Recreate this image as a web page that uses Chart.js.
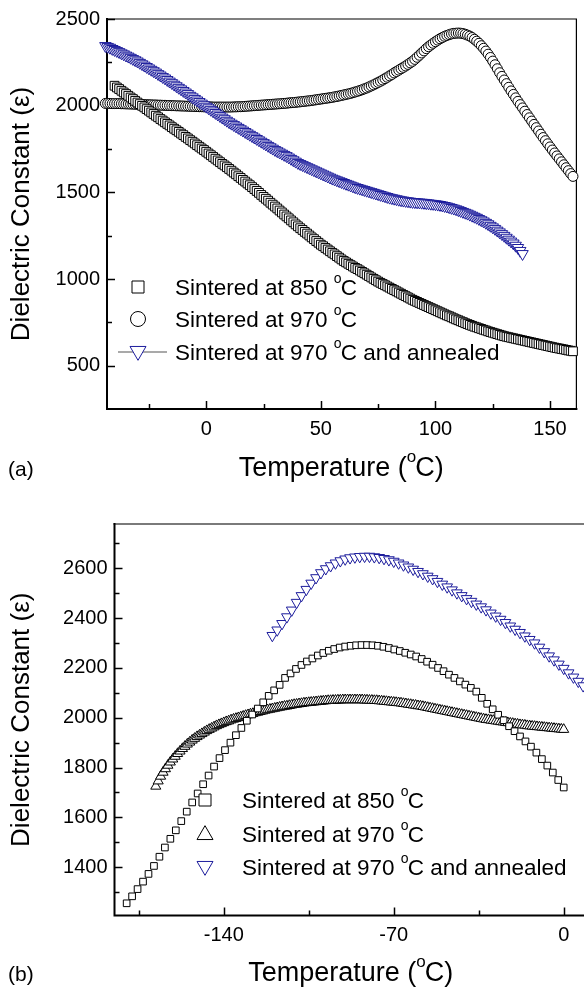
<!DOCTYPE html>
<html>
<head>
<meta charset="utf-8">
<script src="https://cdn.jsdelivr.net/npm/chart.js@4.4.1/dist/chart.umd.min.js"></script>
<style>
  html, body { margin: 0; padding: 0; background: #fff; overflow: hidden; width: 584px; height: 1008px; }
  #ca { position: absolute; left: 0; top: 0; }
  #cb { position: absolute; left: 0; top: 490px; }
</style>
</head>
<body>
<canvas id="ca" width="584" height="490"></canvas>
<canvas id="cb" width="600" height="518"></canvas>
<script>
// ---------- (a) -44 .. 160 °C sweep, 1 °C steps ----------
const tempsA = [-44,-43,-42,-41,-40,-39,-38,-37,-36,-35,-34,-33,-32,-31,-30,-29,-28,-27,-26,-25,
  -24,-23,-22,-21,-20,-19,-18,-17,-16,-15,-14,-13,-12,-11,-10,-9,-8,-7,-6,-5,-4,-3,-2,-1,
  0,1,2,3,4,5,6,7,8,9,10,11,12,13,14,15,16,17,18,19,20,21,22,23,24,25,26,27,28,29,
  30,31,32,33,34,35,36,37,38,39,40,41,42,43,44,45,46,47,48,49,50,51,52,53,54,55,56,57,58,59,
  60,61,62,63,64,65,66,67,68,69,70,71,72,73,74,75,76,77,78,79,80,81,82,83,84,85,86,87,88,89,
  90,91,92,93,94,95,96,97,98,99,100,101,102,103,104,105,106,107,108,109,110,111,112,113,114,115,116,117,118,119,
  120,121,122,123,124,125,126,127,128,129,130,131,132,133,134,135,136,137,138,139,140,141,142,143,144,145,146,147,148,149,
  150,151,152,153,154,155,156,157,158,159,160];

const sint850A = [null,null,null,null,
  2115,2105,2096,2086,2076,2067,2057,2047,2038,2028,
  2018,2009,1999,1990,1980,1971,1961,1952,1942,1933,
  1923,1914,1904,1895,1886,1876,1867,1858,1849,1839,
  1830,1820,1811,1801,1792,1782,1772,1763,1753,1744,
  1734,1724,1714,1704,1694,1684,1674,1664,1655,1645,
  1635,1625,1614,1604,1593,1583,1572,1562,1551,1541,
  1530,1519,1508,1497,1485,1474,1463,1452,1440,1429,
  1418,1407,1395,1384,1372,1361,1350,1338,1327,1315,
  1304,1293,1283,1272,1262,1251,1240,1230,1219,1209,
  1198,1189,1179,1170,1160,1151,1142,1132,1123,1113,
  1104,1096,1088,1080,1072,1064,1057,1049,1041,1033,
  1025,1017,1009,1001,993,985,978,971,964,957,
  950,943,936,929,922,915,908,901,894,887,
  880,874,868,862,856,850,844,838,832,826,
  820,814,808,802,796,790,785,779,773,767,
  762,756,751,745,740,735,730,725,721,716,
  712,707,703,698,694,690,686,682,678,674,
  670,667,664,661,658,655,652,649,646,643,
  640,637,634,631,628,625,622,619,616,613,
  610,607,604,601,599,596,594,591,588,586,
  583];

const sint970A = [
  2013,2013,2013,2012,2012,2012,2012,2011,2011,2010,
  2010,2009,2009,2008,2008,2007,2007,2006,2006,2005,
  2005,2004,2004,2003,2003,2002,2002,2001,2001,2000,
  2000,1999,1999,1998,1998,1997,1997,1996,1996,1995,
  1995,1994,1994,1993,1993,1993,1993,1992,1992,1992,
  1992,1992,1992,1992,1992,1992,1993,1993,1994,1994,
  1995,1996,1997,1998,1999,2000,2001,2002,2003,2004,
  2005,2006,2007,2008,2009,2010,2011,2012,2013,2014,
  2016,2017,2018,2019,2021,2022,2024,2025,2027,2028,
  2030,2032,2034,2036,2038,2040,2042,2044,2046,2048,
  2051,2053,2056,2059,2062,2065,2068,2071,2075,2079,
  2083,2087,2092,2097,2102,2108,2114,2120,2127,2134,
  2141,2148,2156,2164,2172,2180,2189,2197,2205,2213,
  2221,2229,2238,2247,2256,2267,2279,2291,2304,2316,
  2329,2340,2350,2360,2369,2378,2386,2393,2400,2405,
  2410,2414,2417,2418,2419,2418,2416,2412,2407,2401,
  2393,2383,2372,2360,2346,2331,2315,2297,2278,2257,
  2236,2213,2190,2169,2148,2127,2106,2085,2065,2045,
  2025,2006,1987,1968,1949,1930,1911,1892,1873,1854,
  1835,1816,1798,1780,1762,1744,1727,1710,1693,1676,
  1659,1642,1625,1608,1592];

const annealA = [
  2345,2340,2335,2328,2322,2316,2310,2303,2297,2290,
  2284,2277,2270,2263,2256,2248,2240,2232,2224,2216,
  2208,2200,2192,2183,2175,2166,2158,2149,2140,2131,
  2122,2113,2104,2095,2086,2077,2068,2058,2049,2040,
  2031,2022,2013,2004,1995,1986,1977,1968,1959,1950,
  1941,1932,1923,1914,1905,1897,1889,1881,1873,1865,
  1857,1849,1841,1833,1825,1817,1809,1801,1793,1785,
  1777,1769,1761,1753,1745,1738,1731,1724,1717,1710,
  1702,1694,1686,1678,1670,1664,1658,1652,1646,1640,
  1634,1628,1622,1616,1610,1604,1598,1592,1586,1580,
  1575,1570,1565,1560,1555,1550,1545,1540,1535,1530,
  1526,1522,1518,1514,1510,1506,1502,1498,1494,1490,
  1486,1482,1478,1474,1470,1467,1464,1461,1458,1455,
  1453,1451,1449,1447,1445,1444,1443,1442,1441,1440,
  1438,1437,1435,1434,1432,1430,1428,1425,1422,1419,
  1415,1411,1407,1403,1398,1393,1388,1383,1378,1372,
  1366,1360,1354,1347,1340,1333,1325,1317,1308,1299,
  1290,1280,1270,1260,1250,1239,1228,1217,1206,1193,
  1180,1163,1145,
  null,null,null,null,null,null,null,null,null,null,null,
  null,null,null,null,null,null,null,null,null,null,null];

const xTicksA = [0, 50, 100, 150];
const xMinorA = [-25, 25, 75, 125];
const yTicksA = [500, 1000, 1500, 2000, 2500];
const yMinorA = [750, 1250, 1750, 2250];

// ---------- (b) low-temperature sweep ----------
const temps850B = [-180,-177.75,-175.5,-173.25,-171,-168.75,-166.5,-164.25,-162,-159.75,
  -157.5,-155.25,-153,-150.75,-148.5,-146.25,-144,-141.75,-139.5,-137.25,
  -135,-132.75,-130.5,-128.25,-126,-123.75,-121.5,-119.25,-117,-114.75,
  -112.5,-110.25,-108,-105.75,-103.5,-101.25,-99,-96.75,-94.5,-92.25,
  -90,-87.75,-85.5,-83.25,-81,-78.75,-76.5,-74.25,-72,-69.75,
  -67.5,-65.25,-63,-60.75,-58.5,-56.25,-54,-51.75,-49.5,-47.25,
  -45,-42.75,-40.5,-38.25,-36,-33.75,-31.5,-29.25,-27,-24.75,
  -22.5,-20.25,-18,-15.75,-13.5,-11.25,-9,-6.75,-4.5,-2.25,0];

const sint850B = [1255,1283,1312,1342,1373,1405,1442,1479,1514,1548,
  1585,1623,1660,1696,1733,1768,1804,1838,1870,1900,
  1930,1959,1988,2013,2037,2062,2088,2110,2132,2160,
  2178,2196,2212,2226,2238,2250,2260,2269,2276,2282,
  2286,2289,2291,2292,2292,2291,2289,2285,2280,2274,
  2268,2261,2254,2246,2236,2225,2213,2200,2187,2173,
  2160,2146,2133,2120,2105,2080,2056,2034,2012,1990,
  1966,1946,1925,1905,1884,1860,1834,1808,1780,1750,1720];

const temps970B = [-168,-167,-166,-165,-164,-163,-162,-161,-160,-159,
  -158,-157,-156,-155,-154,-153,-152,-151,-150,-149,
  -148,-147,-146,-145,-144,-143,-142,-141,-140,-139,
  -138,-137,-136,-135,-134,-133,-132,-131,-130,-129,
  -128,-127,-126,-125,-124,-123,-122,-121,-120,-119,
  -118,-117,-116,-115,-114,-113,-112,-111,-110,-109,
  -108,-107,-106,-105,-104,-103,-102,-101,-100,-99,
  -98,-97,-96,-95,-94,-93,-92,-91,-90,-89,
  -88,-87,-86,-85,-84,-83,-82,-81,-80,-79,
  -78,-77,-76,-75,-74,-73,-72,-71,-70,-69,
  -68,-67,-66,-65,-64,-63,-62,-61,-60,-59,
  -58,-57,-56,-55,-54,-53,-52,-51,-50,-49,
  -48,-47,-46,-45,-44,-43,-42,-41,-40,-39,
  -38,-37,-36,-35,-34,-33,-32,-31,-30,-29,
  -28,-27,-26,-25,-24,-23,-22,-21,-20,-19,
  -18,-17,-16,-15,-14,-13,-12,-11,-10,-9,
  -8,-7,-6,-5,-4,-3,-2,-1,0];

const sint970B = [1725,1746,1765,1781,1795,1809,1822,1834,1845,1856,
  1866,1876,1885,1894,1902,1910,1917,1924,1930,1936,
  1942,1948,1953,1958,1963,1968,1972,1976,1980,1984,
  1987,1991,1994,1997,2000,2003,2006,2009,2012,2015,
  2017,2020,2022,2025,2027,2030,2032,2034,2036,2038,
  2040,2042,2044,2046,2047,2049,2051,2053,2054,2056,
  2057,2059,2060,2061,2062,2063,2064,2065,2066,2067,
  2068,2069,2069,2070,2070,2071,2071,2072,2072,2072,
  2072,2072,2072,2072,2072,2072,2071,2071,2070,2070,
  2069,2069,2068,2067,2066,2065,2064,2063,2062,2061,
  2060,2059,2057,2056,2054,2053,2051,2050,2048,2047,
  2045,2043,2041,2039,2037,2035,2033,2031,2029,2027,
  2025,2023,2021,2019,2017,2015,2013,2011,2009,2007,
  2005,2003,2001,1999,1997,1995,1993,1992,1990,1989,
  1987,1986,1984,1983,1981,1980,1978,1977,1975,1974,
  1972,1971,1970,1968,1967,1966,1965,1964,1963,1962,
  1961,1960,1959,1958,1957,1956,1955,1954,1953];

const tempsAnnB = [-120,-118,-116,-114,-112,-110,-108,-106,-104,-102,
  -100,-98,-96,-94,-92,-90,-88,-86,-84,-82,
  -80,-78,-76,-74,-72,-70,-68,-66,-64,-62,
  -60,-58,-56,-54,-52,-50,-48,-46,-44,-42,
  -40,-38,-36,-34,-32,-30,-28,-26,-24,-22,
  -20,-18,-16,-14,-12,-10,-8,-6,-4,-2,
  0,2,4,6,8];

const annealB = [2330,2352,2378,2405,2432,2463,2490,2515,2540,2562,
  2582,2598,2610,2621,2630,2637,2642,2645,2647,2648,
  2648,2646,2643,2639,2634,2628,2621,2613,2605,2596,
  2587,2578,2568,2558,2547,2536,2525,2513,2501,2490,
  2478,2467,2456,2445,2433,2420,2408,2395,2382,2368,
  2355,2342,2328,2314,2300,2283,2265,2248,2232,2215,
  2198,2180,2163,2146,2128];

const xTicksB = [-140, -70, 0];
const xMinorB = [-175, -105, -35];
const yTicksB = [1400, 1600, 1800, 2000, 2200, 2400, 2600];
const yMinorB = [1300, 1500, 1700, 1900, 2100, 2300, 2500, 2700];

const legendLabels = ['Sintered at 850 ', 'Sintered at 970 ', 'Sintered at 970 '];
const legendTails = ['C', 'C', 'C and annealed'];

// ---------- shared drawing helpers ----------
const FONT = "Arial, 'Liberation Sans', Helvetica, sans-serif";
const BLUE = '#1c1c9c';

const pts = (xs, ys) => xs.map((x, i) => ({ x: x, y: ys[i] })).filter(p => p.y !== null);

// text with a raised small "o" (degree mark) between two parts
function degText(ctx, x, y, pre, post, size, align) {
  const sup = Math.round(size * 0.64);
  ctx.font = size + 'px ' + FONT;
  const wPre = ctx.measureText(pre).width;
  const wPost = ctx.measureText(post).width;
  ctx.font = sup + 'px ' + FONT;
  const wSup = ctx.measureText('o').width;
  const total = wPre + wSup + wPost;
  const x0 = align === 'center' ? x - total / 2 : x;
  ctx.fillStyle = '#000';
  ctx.textAlign = 'left';
  ctx.textBaseline = 'alphabetic';
  ctx.font = size + 'px ' + FONT;
  ctx.fillText(pre, x0, y);
  ctx.font = sup + 'px ' + FONT;
  ctx.fillText('o', x0 + wPre, y - size * 0.52);
  ctx.font = size + 'px ' + FONT;
  ctx.fillText(post, x0 + wPre + wSup - 1, y);
}

function marker(ctx, kind, x, y, s, color) {
  ctx.save();
  ctx.strokeStyle = color;
  ctx.fillStyle = '#fff';
  ctx.lineWidth = 1;
  ctx.beginPath();
  if (kind === 'rect') {
    ctx.rect(x - s / 2, y - s / 2, s, s);
  } else if (kind === 'circle') {
    ctx.arc(x, y, s / 2, 0, Math.PI * 2);
  } else if (kind === 'up') {
    const h = s * 0.866;
    ctx.moveTo(x, y - h * 0.6); ctx.lineTo(x + s / 2, y + h * 0.4); ctx.lineTo(x - s / 2, y + h * 0.4); ctx.closePath();
  } else {
    const h = s * 0.866;
    ctx.moveTo(x, y + h * 0.6); ctx.lineTo(x + s / 2, y - h * 0.4); ctx.lineTo(x - s / 2, y - h * 0.4); ctx.closePath();
  }
  ctx.fill();
  ctx.stroke();
  ctx.restore();
}

function decor(spec) {
  return {
    id: 'decor',
    beforeDatasetsDraw(chart) {
      const ctx = chart.ctx, a = chart.chartArea, xs = chart.scales.x, ys = chart.scales.y;
      ctx.save();
      // frame
      ctx.lineCap = 'square';
      if (spec.box) {
        ctx.strokeStyle = '#000'; ctx.lineWidth = 1.2;
        ctx.beginPath(); ctx.moveTo(a.left, a.top); ctx.lineTo(a.right, a.top); ctx.lineTo(a.right, a.bottom); ctx.stroke();
      } else {
        ctx.strokeStyle = '#7a7a7a'; ctx.lineWidth = 2;
        ctx.beginPath(); ctx.moveTo(a.left, a.top); ctx.lineTo(chart.width, a.top); ctx.stroke();
      }
      ctx.strokeStyle = '#000'; ctx.lineWidth = 2;
      ctx.beginPath(); ctx.moveTo(a.left, a.top); ctx.lineTo(a.left, a.bottom);
      ctx.lineTo(spec.box ? a.right : chart.width, a.bottom); ctx.stroke();
      // inward ticks
      ctx.lineWidth = 1.5; ctx.lineCap = 'butt';
      const tx = (vals, len) => vals.forEach(v => {
        const p = Math.round(xs.getPixelForValue(v)) + 0.5;
        ctx.beginPath(); ctx.moveTo(p, a.bottom); ctx.lineTo(p, a.bottom - len); ctx.stroke();
      });
      const ty = (vals, len) => vals.forEach(v => {
        const p = Math.round(ys.getPixelForValue(v)) + 0.5;
        ctx.beginPath(); ctx.moveTo(a.left, p); ctx.lineTo(a.left + len, p); ctx.stroke();
      });
      tx(spec.xMajor, 8); tx(spec.xMinor, 5); ty(spec.yMajor, 8); ty(spec.yMinor, 5);
      ctx.restore();
    },
    afterDraw(chart) {
      const ctx = chart.ctx, a = chart.chartArea;
      ctx.save();
      const L = spec.legend;
      if (L.line) {
        ctx.strokeStyle = '#8c8c8c'; ctx.lineWidth = 1.6;
        ctx.beginPath(); ctx.moveTo(L.line[0], L.ys[2]); ctx.lineTo(L.line[1], L.ys[2]); ctx.stroke();
      }
      L.kinds.forEach((k, i) => marker(ctx, k, L.mx, L.ys[i], L.sizes[i], L.colors[i]));
      legendLabels.forEach((t, i) => degText(ctx, L.tx, L.ys[i] + 8, t, legendTails[i], 22.5, 'left'));
      degText(ctx, (a.left + Math.min(a.right, spec.titleRight)) / 2, spec.titleY, 'Temperature (', 'C)', 27, 'center');
      ctx.font = '21px ' + FONT; ctx.fillStyle = '#000'; ctx.textAlign = 'left'; ctx.textBaseline = 'alphabetic';
      ctx.fillText(spec.tag, 8, spec.titleY);
      ctx.restore();
    }
  };
}

function options(c) {
  return {
    responsive: false,
    animation: false,
    devicePixelRatio: 1,
    events: [],
    layout: { padding: c.pad },
    plugins: { legend: { display: false }, tooltip: { enabled: false } },
    scales: {
      x: {
        type: 'linear', position: 'bottom', min: c.xMin, max: c.xMax,
        grid: { display: false, drawTicks: false, tickLength: 0 },
        border: { display: false },
        ticks: { color: '#000', font: { family: FONT, size: 20 }, padding: c.xPad, autoSkip: false,
                 maxRotation: 0, minRotation: 0, callback: v => String(v) },
        afterBuildTicks: s => { s.ticks = c.xTicks.map(v => ({ value: v })); },
        afterFit: s => { s.height = c.xH; }
      },
      y: {
        type: 'linear', position: 'left', min: c.yMin, max: c.yMax,
        grid: { display: false, drawTicks: false, tickLength: 0 },
        border: { display: false },
        ticks: { color: '#000', font: { family: FONT, size: 20 }, padding: 7, autoSkip: false, callback: v => String(v) },
        title: { display: true, text: 'Dielectric Constant (ε)', color: '#000', font: { family: FONT, size: 26 }, padding: { top: 6, bottom: 0 } },
        afterBuildTicks: s => { s.ticks = c.yTicks.map(v => ({ value: v })); },
        afterFit: s => { s.width = c.yW; }
      }
    }
  };
}

function series(data, style, radius, color, rot, order) {
  return {
    data: data, showLine: false, clip: false, order: order,
    pointStyle: style, pointRadius: radius, pointRotation: rot,
    pointBorderWidth: 1, pointBorderColor: color, pointBackgroundColor: '#fff'
  };
}

// ---------- chart (a) ----------
new Chart(document.getElementById('ca'), {
  type: 'scatter',
  data: {
    datasets: [
      series(pts(tempsA, annealA), 'triangle', 6.6, BLUE, 180, 0),
      series(pts(tempsA, sint850A), 'rect', 6.2, '#000', 0, 1),
      series(pts(tempsA, sint970A), 'circle', 5, '#000', 0, 2)
    ]
  },
  options: options({
    pad: { top: 16, right: 6, left: 0, bottom: 0 },
    xMin: -43.3, xMax: 161.5, yMin: 250, yMax: 2500,
    xTicks: xTicksA, yTicks: yTicksA, xH: 81, yW: 107, xPad: 8
  }),
  plugins: [decor({
    box: true, xMajor: xTicksA, xMinor: xMinorA, yMajor: yTicksA, yMinor: yMinorA,
    legend: { mx: 138, tx: 175, ys: [287, 319, 352], kinds: ['rect', 'circle', 'down'],
              sizes: [12, 15, 16], colors: ['#000', '#000', BLUE], line: [118, 167] },
    titleY: 476, titleRight: 9999, tag: '(a)'
  })]
});

// ---------- chart (b) ----------
new Chart(document.getElementById('cb'), {
  type: 'scatter',
  data: {
    datasets: [
      series(pts(temps850B, sint850B), 'rect', 4.7, '#000', 0, 0),
      series(pts(temps970B, sint970B), 'triangle', 5.8, '#000', 0, 1),
      series(pts(tempsAnnB, annealB), 'triangle', 6.2, BLUE, 180, 2)
    ]
  },
  options: options({
    pad: { top: 34, right: 12, left: 0, bottom: 0 },
    xMin: -185, xMax: 10, yMin: 1206, yMax: 2778,
    xTicks: xTicksB, yTicks: yTicksB, xH: 92.5, yW: 114.5, xPad: 8
  }),
  plugins: [decor({
    box: false, xMajor: xTicksB, xMinor: xMinorB, yMajor: yTicksB, yMinor: yMinorB,
    legend: { mx: 205, tx: 242, ys: [310, 344, 377], kinds: ['rect', 'up', 'down'],
              sizes: [12, 16, 16], colors: ['#000', '#000', BLUE], line: null },
    titleY: 491, titleRight: 588, tag: '(b)'
  })]
});
</script>
</body>
</html>
